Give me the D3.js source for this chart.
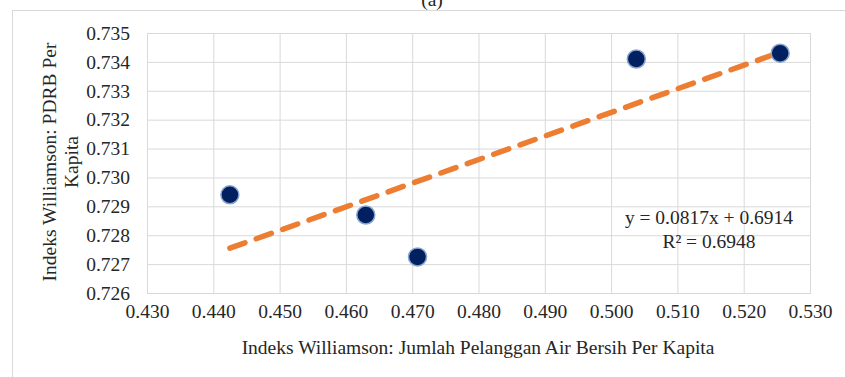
<!DOCTYPE html>
<html>
<head>
<meta charset="utf-8">
<script src="https://cdn.jsdelivr.net/npm/d3@7"></script>
<style>
    body { margin: 0; background: #fff; }
    svg text { font-family: "Liberation Serif", "Times New Roman", serif !important; fill: #262626; }
</style>
</head>
<body>
<div id="chart"></div>
<script>
const xValues = [0.4425, 0.4630, 0.4708, 0.5038, 0.5255];
const yValues = [0.7294, 0.7287, 0.72725, 0.7341, 0.7343];
const xTicks = [0.430, 0.440, 0.450, 0.460, 0.470, 0.480, 0.490, 0.500, 0.510, 0.520, 0.530];
const yTicks = [0.726, 0.727, 0.728, 0.729, 0.730, 0.731, 0.732, 0.733, 0.734, 0.735];
const trendCoef = [0.0817, 0.6914]; // slope, intercept
const trendLabels = ['y = 0.0817x + 0.6914', 'R² = 0.6948'];

const WIDTH = 845;
const HEIGHT = 377;
const PLOT_LEFT = 147;
const PLOT_RIGHT = 810;
const PLOT_TOP = 33;
const PLOT_BOTTOM = 293;
const FONT_SIZE = 19.5;
const GRID_COLOR = '#d9d9d9';

const svg = d3.select('#chart').append('svg')
    .attr('width', WIDTH)
    .attr('height', HEIGHT);

// outer chart frame
svg.append('rect')
    .attr('x', 12.5)
    .attr('y', 10.5)
    .attr('width', 850)
    .attr('height', 400)
    .attr('fill', 'none')
    .attr('stroke', GRID_COLOR);

svg.append('text')
    .attr('x', 432)
    .attr('y', 6)
    .attr('text-anchor', 'middle')
    .attr('font-size', FONT_SIZE)
    .text('(a)');

const x = d3.scaleLinear()
    .domain([xTicks[0], xTicks[xTicks.length - 1]])
    .range([PLOT_LEFT, PLOT_RIGHT]);

const y = d3.scaleLinear()
    .domain([yTicks[0], yTicks[yTicks.length - 1]])
    .range([PLOT_BOTTOM, PLOT_TOP]);

// gridlines + tick labels via axes
const xAxis = svg.append('g')
    .attr('transform', `translate(0,${PLOT_BOTTOM})`)
    .call(d3.axisBottom(x)
        .tickValues(xTicks)
        .tickFormat(d3.format('.3f'))
        .tickSize(-(PLOT_BOTTOM - PLOT_TOP))
        .tickPadding(21));
xAxis.attr('font-family', null).attr('font-size', FONT_SIZE);
xAxis.select('.domain').remove();
xAxis.selectAll('line').attr('stroke', GRID_COLOR);
xAxis.selectAll('text')
    .attr('fill', '#262626')
    .attr('dy', '0.2em');

const yAxis = svg.append('g')
    .attr('transform', `translate(${PLOT_LEFT},0)`)
    .call(d3.axisLeft(y)
        .tickValues(yTicks)
        .tickFormat(d3.format('.3f'))
        .tickSize(-(PLOT_RIGHT - PLOT_LEFT))
        .tickPadding(17));
yAxis.attr('font-family', null).attr('font-size', FONT_SIZE);
yAxis.select('.domain').remove();
yAxis.selectAll('line').attr('stroke', GRID_COLOR);
yAxis.selectAll('text').attr('fill', '#262626');

// plot border
svg.append('rect')
    .attr('x', PLOT_LEFT + 0.5)
    .attr('y', PLOT_TOP + 0.5)
    .attr('width', PLOT_RIGHT - PLOT_LEFT)
    .attr('height', PLOT_BOTTOM - PLOT_TOP)
    .attr('fill', 'none')
    .attr('stroke', GRID_COLOR);

// linear trendline over the data's x-extent
const xExtent = d3.extent(xValues);
svg.append('line')
    .attr('x1', x(xExtent[0]))
    .attr('y1', y(trendCoef[0] * xExtent[0] + trendCoef[1]))
    .attr('x2', x(xExtent[1]))
    .attr('y2', y(trendCoef[0] * xExtent[1] + trendCoef[1]))
    .attr('stroke', '#ED7D31')
    .attr('stroke-width', 5.5)
    .attr('stroke-linecap', 'round')
    .attr('stroke-dasharray', '16 12');

svg.selectAll('.point')
    .data(xValues)
    .join('circle')
    .attr('class', 'point')
    .attr('cx', d => x(d))
    .attr('cy', (d, i) => y(yValues[i]))
    .attr('r', 9)
    .attr('fill', '#002060')
    .attr('stroke', '#8aa4cf')
    .attr('stroke-width', 1.5);

// equation labels
svg.selectAll('.eq')
    .data(trendLabels)
    .join('text')
    .attr('class', 'eq')
    .attr('x', 709)
    .attr('y', (d, i) => 224 + i * 24)
    .attr('text-anchor', 'middle')
    .attr('font-size', FONT_SIZE)
    .text(d => d);

// axis titles
svg.append('text')
    .attr('x', 478)
    .attr('y', 354)
    .attr('text-anchor', 'middle')
    .attr('font-size', FONT_SIZE)
    .text('Indeks Williamson: Jumlah Pelanggan Air Bersih Per Kapita');

const yTitle = svg.append('text')
    .attr('transform', `translate(56,162) rotate(-90)`)
    .attr('text-anchor', 'middle')
    .attr('font-size', FONT_SIZE);
yTitle.append('tspan').attr('x', 0).attr('dy', 0).text('Indeks Williamson: PDRB Per');
yTitle.append('tspan').attr('x', 0).attr('dy', 22).text('Kapita');
</script>
</body>
</html>
